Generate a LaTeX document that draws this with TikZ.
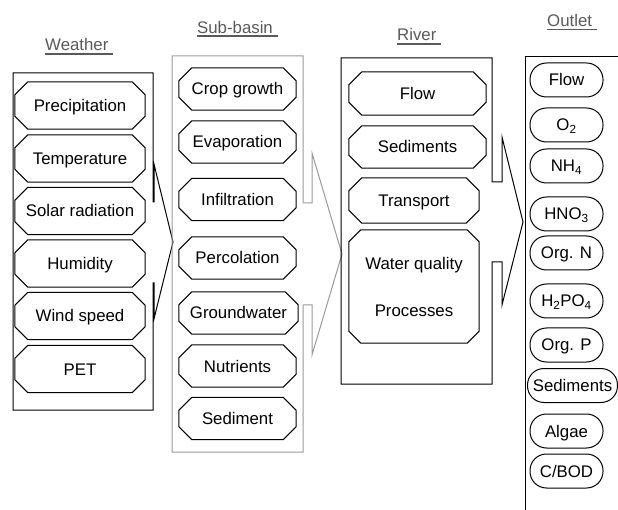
\documentclass[tikz,border=0pt]{standalone}
\usepackage{fontspec}
\setmainfont{Liberation Sans}
\definecolor{lblgray}{HTML}{5A5A5A}
\definecolor{boxgray}{HTML}{9A9A9A}
\newcommand\ulbl[1]{\setbox0\hbox{#1}\rlap{\vrule height -2.2pt depth 3.7pt width \wd0}\box0}
\tikzset{
  txt/.style={font=\fontsize{16.8}{20}\selectfont, inner sep=0pt},
  lbl/.style={txt, text=lblgray, anchor=base west},
  octtext/.style={txt, text height=15pt, text depth=3pt},
  octline/.style={draw=black, line width=1pt, line join=miter},
  container/.style={draw=black, line width=1pt, line join=miter},
  graycontainer/.style={draw=boxgray, line width=1pt, line join=miter},
  outnode/.style={txt, draw=black, line width=1pt, rounded corners=16.5pt,
     minimum width=73pt, minimum height=34pt, inner xsep=5.3pt,
     text height=15pt, text depth=3pt},
}
% name, x, y, width, height, text ; optional chamfer
\newcommand\octbox[7][13pt]{%
  \node[octtext, minimum width=#5pt, minimum height=#6pt] (#2) at (#3,#4) {#7};
  \draw[octline] ([xshift=#1]#2.north west) -- ([xshift=-#1]#2.north east)
     -- ([yshift=-#1]#2.north east) -- ([yshift=#1]#2.south east)
     -- ([xshift=-#1]#2.south east) -- ([xshift=#1]#2.south west)
     -- ([yshift=#1]#2.south west) -- ([yshift=-#1]#2.north west) -- cycle;}
\begin{document}
\begin{tikzpicture}[x=1pt,y=-1pt]
\useasboundingbox (0,0) rectangle (618,510);
\clip (0,0) rectangle (618,510);
\fill[white] (0,0) rectangle (618,510);

% labels
\node[lbl] (lw) at (45,51) {\ulbl{Weather\ }};
\node[lbl] (ls) at (197,33.3) {\ulbl{Sub-basin\ }};
\node[lbl] (lr) at (397,41) {\ulbl{River\ }};
\node[lbl] (lo) at (547,26.5) {\ulbl{Outlet\ }};

% containers
\draw[container] (13,73) -- (153,73) -- (153,202) -- (154.2,202) -- (154.2,165)
   -- (173,242) -- (154.2,318) -- (154.2,283) -- (153,283) -- (153,410) -- (13,410) -- cycle;
\draw[graycontainer] (172,56) -- (303,56) -- (303,203) -- (312,203) -- (312,153)
   -- (342,254) -- (312,355) -- (312,305) -- (303,305) -- (303,452) -- (172,452) -- cycle;
\draw[container] (341,58) -- (492,58) -- (492,182) -- (502,182) -- (502,137)
   -- (523,222) -- (502,305) -- (502,262) -- (492,262) -- (492,384) -- (341,384) -- cycle;
\draw[container] (625,57) -- (525,57) -- (525,520);

% weather
\octbox{prec}{80}{105.5}{130}{47}{Precipitation}
\octbox{temp}{80}{158.5}{130}{47}{Temperature}
\octbox{solar}{80}{211}{130}{47}{Solar radiation}
\octbox{hum}{80}{263.5}{130}{47}{Humidity}
\octbox{wind}{80}{316}{130}{47}{Wind speed}
\octbox{pet}{80}{369}{130}{47}{PET}

% sub-basin
\octbox{crop}{237.5}{89}{117}{42}{Crop growth}
\octbox{evap}{237.5}{142}{117}{42}{Evaporation}
\octbox{infil}{237.5}{199.5}{117}{42}{Infiltration}
\octbox{perc}{237.5}{258}{117}{42}{Percolation}
\octbox{ground}{238.5}{313}{119}{42}{Groundwater}
\octbox{nutr}{237.5}{366}{117}{42}{Nutrients}
\octbox{sedi}{237.5}{418.5}{117}{42}{Sediment}

% river
\octbox{rflow}{417.5}{93.5}{137}{43}{Flow}
\octbox{rsed}{417.5}{147}{137}{42}{Sediments}
\octbox{rtrans}{414}{200.5}{130}{45}{Transport}
\node[txt, align=center, minimum width=130pt, minimum height=113pt] (wq) at (414,286.5)
   {Water quality\\[27pt]Processes};
\draw[octline] ([xshift=12pt]wq.north west) -- ([xshift=-12pt]wq.north east)
   -- ([yshift=-12pt]wq.north east) -- ([yshift=12pt]wq.south east)
   -- ([xshift=-12pt]wq.south east) -- ([xshift=12pt]wq.south west)
   -- ([yshift=12pt]wq.south west) -- ([yshift=-12pt]wq.north west) -- cycle;

% outlet
\node[outnode] (oflow) at (566.5,80) {Flow};
\node[outnode] (oo2) at (566.5,125) {O\textsubscript{2}};
\node[outnode] (onh4) at (566.5,166) {NH\textsubscript{4}};
\node[outnode] (ohno3) at (566.5,214) {HNO\textsubscript{3}};
\node[outnode] (oorgn) at (566.5,253) {Org. N};
\node[outnode] (oh2po4) at (566.5,301) {H\textsubscript{2}PO\textsubscript{4}};
\node[outnode] (oorgp) at (566.5,345) {Org. P};
\node[outnode] (osed) at (572.5,385.5) {Sediments};
\node[outnode] (oalg) at (566.5,431) {Algae};
\node[outnode] (obod) at (566.5,471) {C/BOD};
\end{tikzpicture}
\end{document}
